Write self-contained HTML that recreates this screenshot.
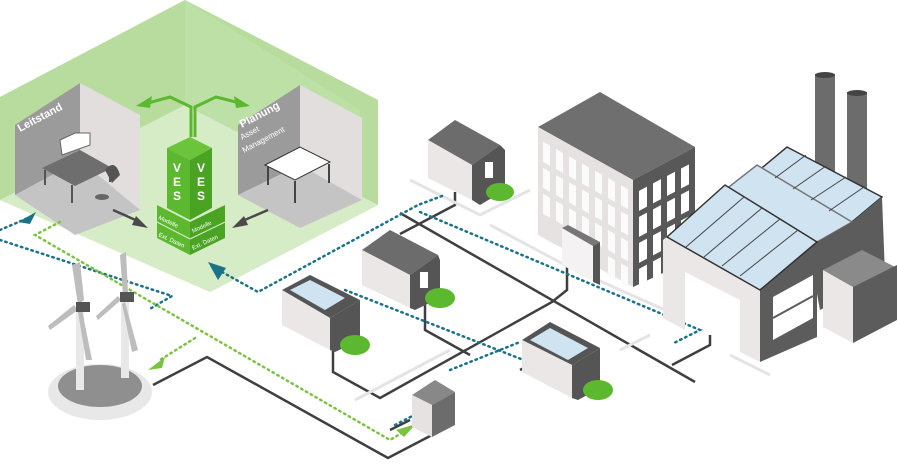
<!DOCTYPE html>
<html><head><meta charset="utf-8"><style>
html,body{margin:0;padding:0;background:#fff;width:897px;height:470px;overflow:hidden}
svg{display:block;font-family:"Liberation Sans",sans-serif}
</style></head><body>
<svg width="897" height="470" viewBox="0 0 897 470">
<!-- green hexagon -->
<polygon points="185,0 378,100 378,205 210,292 0,200 0,97" fill="#cfe8be"/>
<polygon points="185,0 378,100 378,205 185,105 0,200 0,97" fill="#b7dc9e"/>
<polygon points="185,105 378,205 210,292 0,200" fill="#d6ecc7"/>
<polygon points="185,0 185,105 360,195 360,110" fill="#c2e2ab" opacity="0.6"/>
<!-- left room -->
<polygon points="15,125 80,83 80,160 15,195" fill="#9b9b9b"/>
<polygon points="80,83 140,115 140,210 80,160" fill="#e2dede"/>
<polygon points="15,195 80,160 140,210 75,235" fill="#c4c4c4"/>
<text x="20" y="132" fill="#fff" font-size="11" font-weight="bold" transform="rotate(-28 20 132)">Leitstand</text>
<polygon points="42,168 80,150 112,168 75,186" fill="#6e6e6e"/>
<line x1="45" y1="170" x2="45" y2="185" stroke="#555" stroke-width="2"/>
<line x1="72" y1="185" x2="72" y2="203" stroke="#555" stroke-width="2"/>
<line x1="110" y1="170" x2="110" y2="182" stroke="#555" stroke-width="2"/>
<polygon points="60,140 75,133 90,133 90,145 62,155" fill="#fff" stroke="#666"/>
<ellipse cx="102" cy="197" rx="7" ry="3" fill="#666"/>
<path d="M105,170 q10,-12 15,5 l-8,8z" fill="#555"/>
<!-- right room -->
<polygon points="238,125 300,85 300,165 238,195" fill="#9b9b9b"/>
<polygon points="300,85 362,118 362,200 300,165" fill="#e2dede"/>
<polygon points="238,195 300,165 362,200 300,228" fill="#c4c4c4"/>
<text x="242" y="128" fill="#fff" font-size="11" font-weight="bold" transform="rotate(-28 242 128)">Planung</text>
<text x="242" y="140" fill="#fff" font-size="8" transform="rotate(-28 242 140)">Asset</text>
<text x="244" y="153" fill="#fff" font-size="8" transform="rotate(-28 244 153)">Management</text>
<polygon points="265,165 300,147 330,162 295,180" fill="#fff" stroke="#333"/>
<line x1="268" y1="167" x2="268" y2="185" stroke="#444" stroke-width="2"/>
<line x1="295" y1="181" x2="295" y2="203" stroke="#444" stroke-width="2"/>
<line x1="329" y1="164" x2="329" y2="183" stroke="#444" stroke-width="2"/>
<g stroke="#5cb82f" stroke-width="3" fill="none">
<path d="M191,137 V107 L170,97 L148,103"/><path d="M195,137 V107 L216,97 L240,103"/>
</g>
<polygon points="136,106 152,96 150,108" fill="#5cb82f"/>
<polygon points="250,106 234,96 236,108" fill="#5cb82f"/>
<g stroke="#4a4a4a" stroke-width="2.5"><line x1="113" y1="210" x2="140" y2="222"/><line x1="268" y1="210" x2="240" y2="222"/></g>
<polygon points="148,228 136,216 132,225" fill="#4a4a4a"/>
<polygon points="232,228 244,216 248,225" fill="#4a4a4a"/>
<!-- VES tower -->
<polygon points="167,148 190,137 212,148 190,160" fill="#6cc43b"/>
<polygon points="167,148 190,160 190,220 167,208" fill="#5cb82f"/>
<polygon points="190,160 212,148 212,208 190,220" fill="#4aa323"/>
<polygon points="157,205 190,222 190,255 157,238" fill="#5cb82f"/>
<polygon points="190,222 225,205 225,238 190,255" fill="#4aa323"/>
<line x1="157" y1="222" x2="190" y2="239" stroke="#d6ecc7"/><line x1="190" y1="239" x2="225" y2="222" stroke="#d6ecc7"/>
<g fill="#fff" font-size="12" font-weight="bold"><text x="173" y="172">V</text><text x="173" y="186">E</text><text x="173" y="200">S</text><text x="197" y="172">V</text><text x="197" y="186">E</text><text x="197" y="200">S</text></g>
<g fill="#fff" font-size="6"><text x="158" y="219" transform="rotate(25 158 219)">Modelle</text><text x="193" y="233" transform="rotate(-25 193 233)">Modelle</text><text x="158" y="236" transform="rotate(25 158 236)">Ext. Daten</text><text x="193" y="250" transform="rotate(-25 193 250)">Ext. Daten</text></g>
<!-- dark network lines -->
<g stroke="#3f3f3f" stroke-width="2.5" fill="none">
<path d="M153,385 L207,357 L388,458 L432,435"/>
<path d="M333,335 V372 L380,398 L552,302 L567,290 V267"/>
<path d="M400,213 L695,382"/>
<path d="M400,234 L455,205 V192"/>
<path d="M425,305 V330 L470,355"/>
<path d="M390,430 L410,420"/>
<path d="M520,370 L535,362 V350"/>
<path d="M672,365 L710,345 V335"/>
</g>
<g stroke="#e4e4e4" stroke-width="3" fill="none">
<path d="M410,180 L480,215 L530,190"/><path d="M490,225 L565,265 L620,290 L665,310"/>
<path d="M355,400 L450,350"/><path d="M620,350 L650,335"/><path d="M730,355 L770,375"/>
</g>
<!-- teal dotted -->
<g stroke="#1b7388" stroke-width="2.5" stroke-dasharray="1.5 4" fill="none" stroke-linecap="round">
<path d="M0,230 L28,218"/><path d="M0,240 L172,296 L148,310"/>
<path d="M222,272 L258,292 L418,205 L442,196"/>
<path d="M420,212 L700,330 L672,344"/>
<path d="M345,290 L600,390"/><path d="M395,425 L420,412"/>
<path d="M450,370 L520,342"/>
</g>
<polygon points="18,222 36,212 30,224" fill="#1b7388"/>
<polygon points="208,262 226,268 218,280" fill="#1b7388"/>
<!-- green dotted -->
<g stroke="#7cc242" stroke-width="2.5" stroke-dasharray="1.5 4" fill="none" stroke-linecap="round">
<path d="M60,222 L35,235 L390,440 L410,428"/>
<path d="M195,338 L160,360"/>
</g>
<polygon points="148,370 165,357 162,368" fill="#7cc242"/>
<polygon points="416,424 396,430 404,437" fill="#7cc242"/>
<!-- wind -->
<ellipse cx="100" cy="392" rx="52" ry="28" fill="#e8e8e8"/>
<ellipse cx="100" cy="386" rx="42" ry="21" fill="#8f8f8f"/>
<rect x="76" y="310" width="8" height="80" fill="#e8e8e8"/>
<rect x="121" y="300" width="8" height="78" fill="#e8e8e8"/>
<g fill="#bdbdbd"><polygon points="78,305 72,265 80,262 84,300"/><polygon points="78,310 50,330 48,326 74,305"/><polygon points="82,310 92,360 86,360 78,312"/>
<polygon points="123,296 120,255 126,252 128,292"/><polygon points="121,300 98,320 96,316 118,296"/><polygon points="125,302 138,350 132,352 122,304"/></g>
<rect x="76" y="302" width="14" height="10" fill="#555"/><rect x="120" y="292" width="14" height="10" fill="#555"/>
<!-- H1 -->
<polygon points="428,140 455,120 500,145 472,165" fill="#6c6c6c"/>
<polygon points="428,140 472,165 472,200 428,178" fill="#ebe7e7"/>
<polygon points="472,165 500,145 505,150 505,190 480,205 472,200" fill="#555"/>
<rect x="485" y="162" width="8" height="16" fill="#fff"/>
<ellipse cx="500" cy="192" rx="14" ry="9" fill="#5cb82f"/>
<!-- H2 -->
<polygon points="362,250 390,230 438,255 410,275" fill="#6c6c6c"/>
<polygon points="362,250 410,275 410,308 362,285" fill="#ebe7e7"/>
<polygon points="410,275 438,255 440,260 440,298 415,310 410,308" fill="#555"/>
<rect x="420" y="272" width="8" height="16" fill="#fff"/>
<ellipse cx="440" cy="298" rx="15" ry="10" fill="#5cb82f"/>
<!-- H3 -->
<polygon points="282,290 310,275 360,300 330,318" fill="#555"/>
<polygon points="290,290 310,280 345,298 325,310" fill="#cfe3f0"/>
<polygon points="282,290 330,318 330,350 282,325" fill="#ebe7e7"/>
<polygon points="330,318 360,300 360,340 335,352 330,350" fill="#555"/>
<ellipse cx="355" cy="345" rx="15" ry="10" fill="#5cb82f"/>
<!-- H4 -->
<polygon points="522,340 550,322 600,348 572,365" fill="#555"/>
<polygon points="530,340 550,328 588,348 568,360" fill="#cfe3f0"/>
<polygon points="522,340 572,365 572,398 522,372" fill="#ebe7e7"/>
<polygon points="572,365 600,348 600,388 578,400 572,398" fill="#555"/>
<ellipse cx="598" cy="390" rx="15" ry="10" fill="#5cb82f"/>
<!-- transformer -->
<polygon points="412,395 435,380 455,392 432,405" fill="#888"/>
<polygon points="412,395 432,405 432,437 412,427" fill="#e6e2e2"/>
<polygon points="432,405 455,392 455,425 432,437" fill="#6c6c6c"/>
<!-- office -->
<polygon points="538,127 600,92 695,147 633,180" fill="#6f6f6f"/>
<polygon points="538,127 633,180 633,287 538,235" fill="#e6e2e2"/>
<polygon points="633,180 695,147 695,258 633,287" fill="#585858"/>
<g transform="matrix(1,-0.53,0,1,633,180)" fill="#fff">
<rect x="6" y="14" width="8" height="20"/><rect x="20" y="14" width="8" height="20"/><rect x="34" y="14" width="8" height="20"/><rect x="48" y="14" width="8" height="20"/>
<rect x="6" y="40" width="8" height="20"/><rect x="20" y="40" width="8" height="20"/><rect x="34" y="40" width="8" height="20"/><rect x="48" y="40" width="8" height="20"/>
<rect x="6" y="66" width="8" height="20"/><rect x="20" y="66" width="8" height="20"/><rect x="34" y="66" width="8" height="20"/><rect x="48" y="66" width="8" height="20"/>
<rect x="6" y="92" width="8" height="20"/><rect x="20" y="92" width="8" height="20"/><rect x="34" y="92" width="8" height="20"/><rect x="48" y="92" width="8" height="20"/>
</g>
<g transform="matrix(1,0.558,0,1,538,127)" fill="#fbfbfb">
<rect x="5" y="12" width="7" height="20"/><rect x="18" y="12" width="7" height="20"/><rect x="31" y="12" width="7" height="20"/><rect x="44" y="12" width="7" height="20"/><rect x="57" y="12" width="7" height="20"/><rect x="70" y="12" width="7" height="20"/><rect x="83" y="12" width="7" height="20"/>
<rect x="5" y="38" width="7" height="20"/><rect x="18" y="38" width="7" height="20"/><rect x="31" y="38" width="7" height="20"/><rect x="44" y="38" width="7" height="20"/><rect x="57" y="38" width="7" height="20"/><rect x="70" y="38" width="7" height="20"/><rect x="83" y="38" width="7" height="20"/>
<rect x="5" y="64" width="7" height="20"/><rect x="18" y="64" width="7" height="20"/><rect x="31" y="64" width="7" height="20"/><rect x="44" y="64" width="7" height="20"/><rect x="57" y="64" width="7" height="20"/><rect x="70" y="64" width="7" height="20"/><rect x="83" y="64" width="7" height="20"/>
<rect x="70" y="90" width="7" height="20"/><rect x="83" y="90" width="7" height="20"/>
</g>
<polygon points="562,228 568,225 600,242 600,285 562,265" fill="#f4f2f2"/>
<polygon points="562,228 568,225 600,242 593,246" fill="#777"/>
<polygon points="593,246 600,242 600,285 593,282" fill="#555"/>
<!-- chimneys -->
<rect x="815" y="74" width="20" height="130" fill="#6c6c6c"/><ellipse cx="825" cy="75" rx="10" ry="3" fill="#444"/>
<rect x="847" y="92" width="20" height="120" fill="#6c6c6c"/><ellipse cx="857" cy="93" rx="10" ry="3" fill="#444"/>
<!-- factory -->
<polygon points="800,200 882,197 885,275 820,310" fill="#5c5c5c"/>
<polygon points="787,147 882,197 852,222 757,172" fill="#cfe3f0" stroke="#333" stroke-width="1.5"/>
<polygon points="757,165 852,222 817,242 725,190" fill="#cfe3f0" stroke="#777" stroke-width="1.5"/>
<polygon points="852,222 882,197 882,215 852,240" fill="#5c5c5c"/>
<polygon points="817,242 852,222 852,260 817,280" fill="#5c5c5c"/>
<polygon points="663,240 725,188 760,290 760,362 740,352 740,300 685,272 685,330 663,318" fill="#ebe7e7"/>
<polygon points="725,185 817,242 817,337 760,362 760,290" fill="#5c5c5c"/>
<polygon points="667,237 725,185 817,242 760,290" fill="#cfe3f0" stroke="#333" stroke-width="1.5"/>
<g stroke="#444" stroke-width="1"><line x1="686" y1="247" x2="744" y2="197"/><line x1="704" y1="257" x2="762" y2="208"/><line x1="722" y1="266" x2="780" y2="219"/><line x1="740" y1="276" x2="798" y2="230"/>
<line x1="775" y1="178" x2="806" y2="155"/><line x1="793" y1="189" x2="826" y2="166"/><line x1="811" y1="200" x2="846" y2="177"/><line x1="829" y1="211" x2="864" y2="187"/></g>
<polygon points="773,297 813,275 813,318 773,340" fill="#fff"/>
<line x1="773" y1="318" x2="813" y2="296" stroke="#5c5c5c" stroke-width="2"/>
<polygon points="823,270 862,250 897,268 897,272 853,287" fill="#8a8a8a"/>
<polygon points="823,270 853,287 853,343 823,327" fill="#ebe7e7"/>
<polygon points="853,287 897,265 897,320 853,343" fill="#5c5c5c"/>
</svg>
</body></html>
